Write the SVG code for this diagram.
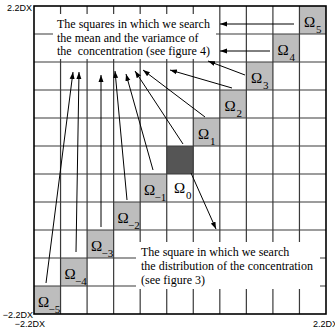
<svg xmlns="http://www.w3.org/2000/svg" width="335" height="331" viewBox="0 0 335 331">
<style>
.grid line{stroke:#3a3a3a;stroke-width:1.2}
.cell{fill:#bdbdbd;stroke:none}
.om{font-family:"Liberation Serif",serif;font-size:15px;fill:#000}
.sub{font-family:"Liberation Serif",serif;font-size:11px;fill:#000}
.txt{font-family:"Liberation Serif",serif;font-size:12px;fill:#000;white-space:pre}
.ax{font-family:"Liberation Sans",sans-serif;font-size:9px;fill:#000}
.arr{stroke:#000;stroke-width:1;fill:none;marker-end:url(#ah)}
</style>
<defs>
<marker id="ah" markerUnits="userSpaceOnUse" markerWidth="8" markerHeight="6" refX="7" refY="3" orient="auto">
<path d="M0,0.5 L7,3 L0,5.5 Z" fill="#000"/>
</marker>
</defs>
<rect x="0" y="0" width="335" height="331" fill="#fff"/>
<g id="cells">
<rect class="cell" x="299.45" y="6" width="26.55" height="28"/>
<rect class="cell" x="272.91" y="34" width="26.55" height="28"/>
<rect class="cell" x="246.36" y="62" width="26.55" height="28"/>
<rect class="cell" x="219.82" y="90" width="26.55" height="28"/>
<rect class="cell" x="193.27" y="118" width="26.55" height="28"/>
<rect x="166.73" y="146" width="26.55" height="28" fill="#555"/>
<rect class="cell" x="140.18" y="174" width="26.55" height="28"/>
<rect class="cell" x="113.64" y="202" width="26.55" height="28"/>
<rect class="cell" x="87.09" y="230" width="26.55" height="28"/>
<rect class="cell" x="60.55" y="258" width="26.55" height="28"/>
<rect class="cell" x="34" y="286" width="26.55" height="28"/>
</g>
<g class="grid" id="grid">
<line x1="60.55" y1="6" x2="60.55" y2="314"/>
<line x1="87.09" y1="6" x2="87.09" y2="314"/>
<line x1="113.64" y1="6" x2="113.64" y2="314"/>
<line x1="140.18" y1="6" x2="140.18" y2="314"/>
<line x1="166.73" y1="6" x2="166.73" y2="314"/>
<line x1="193.27" y1="6" x2="193.27" y2="314"/>
<line x1="219.82" y1="6" x2="219.82" y2="314"/>
<line x1="246.36" y1="6" x2="246.36" y2="314"/>
<line x1="272.91" y1="6" x2="272.91" y2="314"/>
<line x1="299.45" y1="6" x2="299.45" y2="314"/>
<line x1="34" y1="34" x2="326" y2="34"/>
<line x1="34" y1="62" x2="326" y2="62"/>
<line x1="34" y1="90" x2="326" y2="90"/>
<line x1="34" y1="118" x2="326" y2="118"/>
<line x1="34" y1="146" x2="326" y2="146"/>
<line x1="34" y1="174" x2="326" y2="174"/>
<line x1="34" y1="202" x2="326" y2="202"/>
<line x1="34" y1="230" x2="326" y2="230"/>
<line x1="34" y1="258" x2="326" y2="258"/>
<line x1="34" y1="286" x2="326" y2="286"/>
</g>
<rect x="34" y="6" width="292" height="308" fill="none" stroke="#000" stroke-width="1.6"/>
<g id="axes">
<text class="ax" x="32" y="11" text-anchor="end">2.2DX</text>
<text class="ax" x="33" y="318" text-anchor="end">−2.2DX</text>
<text class="ax" x="45" y="327" text-anchor="end">−2.2DX</text>
<text class="ax" x="313" y="327">2.2DX</text>
</g>
<g id="labels">
<g id="o5"><text class="om" x="304" y="27">Ω</text><text class="sub" x="316" y="33">5</text></g>
<g id="o4"><text class="om" x="277.5" y="55">Ω</text><text class="sub" x="289.5" y="61">4</text></g>
<g id="o3"><text class="om" x="251" y="83">Ω</text><text class="sub" x="263" y="89">3</text></g>
<g id="o2"><text class="om" x="224.5" y="111">Ω</text><text class="sub" x="236.5" y="117">2</text></g>
<g id="o1"><text class="om" x="198" y="139">Ω</text><text class="sub" x="210" y="145">1</text></g>
<g id="o0"><text class="om" x="174" y="193">Ω</text><text class="sub" x="186" y="199">0</text></g>
<g id="om1"><text class="om" x="144" y="195">Ω</text><text class="sub" x="154.5" y="201">−1</text></g>
<g id="om2"><text class="om" x="117.5" y="223">Ω</text><text class="sub" x="128" y="229">−2</text></g>
<g id="om3"><text class="om" x="91" y="251">Ω</text><text class="sub" x="101.5" y="257">−3</text></g>
<g id="om4"><text class="om" x="64.5" y="279">Ω</text><text class="sub" x="75" y="285">−4</text></g>
<g id="om5"><text class="om" x="38" y="307">Ω</text><text class="sub" x="48.5" y="313">−5</text></g>
</g>
<g id="topbox">
<rect x="53" y="14" width="163" height="45" fill="#fff"/>
<text class="txt" x="57" y="28">The squares in which we search</text>
<text class="txt" x="57" y="41.5">the mean and the variamce of</text>
<text class="txt" x="57" y="55">the  concentration (see figure 4)</text>
</g>
<g id="bottombox">
<rect x="136" y="242" width="184" height="47" fill="#fff"/>
<text class="txt" x="141" y="256">The square in which we search</text>
<text class="txt" x="141" y="270">the distribution of the concentration</text>
<text class="txt" x="141" y="284">(see figure 3)</text>
</g>
<g id="connectors">
<line class="arr" x1="294" y1="24" x2="220" y2="24"/>
<line class="arr" x1="270" y1="51" x2="220" y2="51"/>
<line class="arr" x1="245" y1="75" x2="208" y2="61"/>
<line class="arr" x1="232" y1="88" x2="170" y2="70"/>
<line class="arr" x1="205" y1="117" x2="143" y2="70"/>
<line class="arr" x1="183" y1="144" x2="135" y2="71"/>
<line class="arr" x1="153" y1="170" x2="126" y2="74"/>
<line class="arr" x1="127" y1="200" x2="115" y2="71"/>
<line class="arr" x1="101" y1="227" x2="101" y2="75"/>
<line class="arr" x1="76" y1="252" x2="79" y2="72"/>
<line class="arr" x1="46" y1="283" x2="73" y2="72"/>
<line class="arr" x1="191" y1="173" x2="216" y2="229"/>
</g>
</svg>
